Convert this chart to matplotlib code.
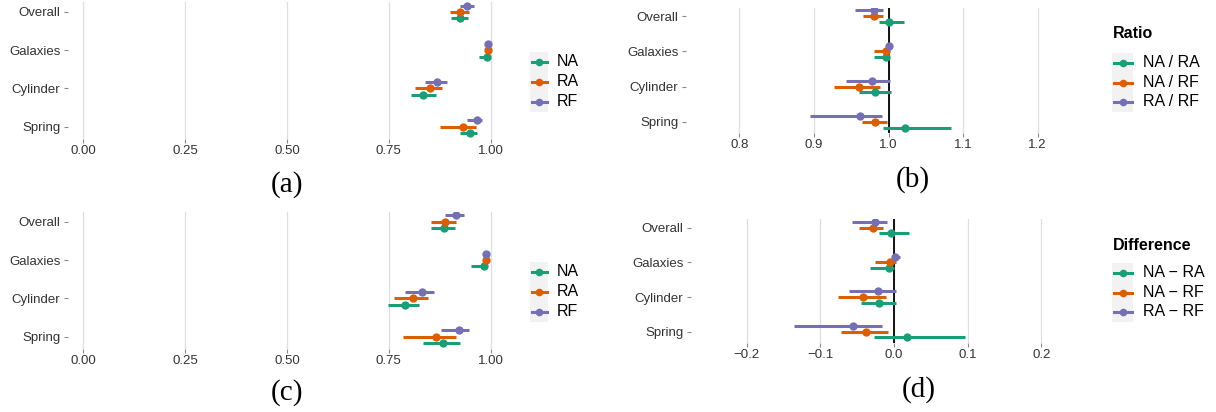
import matplotlib
matplotlib.use("Agg")
import matplotlib.pyplot as plt
from matplotlib.lines import Line2D
from matplotlib.patches import Rectangle

# ---------------- data ----------------
categories = ["Overall", "Galaxies", "Cylinder", "Spring"]

# panel (a)
a_na_est = [0.924, 0.990, 0.835, 0.949]
a_na_lo = [0.902, 0.971, 0.804, 0.924]
a_na_hi = [0.945, 0.996, 0.865, 0.967]
a_ra_est = [0.926, 0.994, 0.852, 0.933]
a_ra_lo = [0.900, 0.991, 0.814, 0.875]
a_ra_hi = [0.948, 0.997, 0.881, 0.963]
a_rf_est = [0.943, 0.993, 0.869, 0.966]
a_rf_lo = [0.924, 0.990, 0.838, 0.943]
a_rf_hi = [0.959, 0.996, 0.893, 0.978]

# panel (c)
c_na_est = [0.885, 0.983, 0.789, 0.884]
c_na_lo = [0.854, 0.951, 0.7475, 0.8335]
c_na_hi = [0.912, 0.988, 0.825, 0.924]
c_ra_est = [0.8886, 0.989, 0.810, 0.866]
c_ra_lo = [0.854, 0.986, 0.764, 0.786]
c_ra_hi = [0.916, 0.992, 0.846, 0.916]
c_rf_est = [0.9146, 0.988, 0.832, 0.922]
c_rf_lo = [0.889, 0.985, 0.789, 0.879]
c_rf_hi = [0.935, 0.991, 0.862, 0.947]

# panel (b) ratios
b_nara_est = [1.000, 0.996, 0.982, 1.0224]
b_nara_lo = [0.987, 0.980, 0.960, 0.992]
b_nara_hi = [1.021, 1.000, 1.003, 1.084]
b_narf_est = [0.980, 0.9965, 0.9607, 0.982]
b_narf_lo = [0.966, 0.981, 0.9275, 0.964]
b_narf_hi = [0.992, 1.001, 0.989, 0.998]
b_rarf_est = [0.980, 1.001, 0.9785, 0.962]
b_rarf_lo = [0.955, 0.999, 0.943, 0.895]
b_rarf_hi = [0.993, 1.003, 1.002, 0.9915]

# panel (d) differences
d_nara_est = [-0.0045, -0.0063, -0.0203, 0.0171]
d_nara_lo = [-0.0208, -0.0325, -0.0446, -0.0266]
d_nara_hi = [0.0203, 0.0, 0.0023, 0.096]
d_narf_est = [-0.029, -0.0054, -0.0425, -0.0379]
d_narf_lo = [-0.0474, -0.0253, -0.0763, -0.0714]
d_narf_hi = [-0.0149, 0.0027, -0.0113, -0.0077]
d_rarf_est = [-0.0253, 0.0014, -0.0217, -0.0551]
d_rarf_lo = [-0.0569, 0.0, -0.0610, -0.136]
d_rarf_hi = [-0.0095, 0.0081, 0.0032, -0.0158]

acc_ticks = [0.0, 0.25, 0.5, 0.75, 1.0]
acc_ticklabels = ["0.00", "0.25", "0.50", "0.75", "1.00"]
ratio_ticks = [0.8, 0.9, 1.0, 1.1, 1.2]
ratio_ticklabels = ["0.8", "0.9", "1.0", "1.1", "1.2"]
diff_ticks = [-0.2, -0.1, 0.0, 0.1, 0.2]
diff_ticklabels = ["\u22120.2", "\u22120.1", "0.0", "0.1", "0.2"]

acc_labels = ["NA", "RA", "RF"]
ratio_labels = ["NA / RA", "NA / RF", "RA / RF"]
diff_labels = ["NA \u2212 RA", "NA \u2212 RF", "RA \u2212 RF"]

# ---------------- style ----------------
GREEN, ORANGE, PURPLE = "#1B9E77", "#D95F02", "#7570B3"
colors = [GREEN, ORANGE, PURPLE]
offsets = [-1/6, 0.0, 1/6]
SANS = ["Liberation Sans", "DejaVu Sans"]
SERIF = ["Liberation Serif", "DejaVu Serif"]
plt.rcParams["font.family"] = SANS

W, H = 1216, 412
fig = plt.figure(figsize=(W / 100, H / 100), dpi=100)


def axes_px(l, t, r, b):
    return fig.add_axes([l / W, 1 - b / H, (r - l) / W, (b - t) / H])


def fx(x):
    return x / W


def fy(y):
    return 1 - y / H


ypos = [4, 3, 2, 1]
YLIM = (0.68, 4.25)


def panel(ax, series, xlim, xticks, xticklabels, ref=None):
    ax.set_xlim(xlim)
    ax.set_ylim(YLIM)
    for s in ax.spines.values():
        s.set_visible(False)
    ax.set_xticks(xticks)
    ax.set_xticklabels(xticklabels)
    ax.set_yticks(ypos)
    ax.set_yticklabels(categories)
    ax.grid(axis="x", color="#DEDEDE", lw=0.9)
    ax.grid(axis="y", visible=False)
    ax.set_axisbelow(True)
    ax.tick_params(axis="both", length=3, width=0.8, color="#8A8A8A",
                   labelsize=9.5, labelcolor="#333333")
    ax.tick_params(axis="y", pad=2.5)
    ax.tick_params(axis="x", pad=1.5)
    if ref is not None:
        ax.axvline(ref, color="black", lw=1.3, zorder=1.5)
    for (est, lo, hi), col, off in zip(series, colors, offsets):
        yy = [p + off for p in ypos]
        ax.hlines(yy, lo, hi, color=col, lw=2.2, zorder=3)
        ax.plot(est, yy, "o", color=col, ms=6, mec="none", zorder=4)


def legend(x_left, box_w, label_dx, y_title, rows_y, labels, title=None):
    if title is not None:
        fig.text(fx(x_left + 1), fy(y_title), title, fontsize=11.5,
                 fontweight="bold", ha="left", va="center", color="black")
    top = rows_y[0] - 10
    bot = rows_y[-1] + 10
    fig.add_artist(Rectangle((fx(x_left), fy(bot)), fx(box_w), (bot - top) / H,
                             transform=fig.transFigure, facecolor="#F2F2F2",
                             edgecolor="none"))
    for yy, lab, col in zip(rows_y, labels, colors):
        fig.add_artist(Line2D([fx(x_left + 1.5), fx(x_left + box_w - 1.5)], [fy(yy), fy(yy)],
                              transform=fig.transFigure, color=col, lw=2.2))
        fig.add_artist(Line2D([fx(x_left + box_w / 2)], [fy(yy)], marker="o", ms=5.5,
                              mec="none", transform=fig.transFigure, color=col))
        fig.text(fx(x_left + label_dx), fy(yy), lab, fontsize=11.5, ha="left",
                 va="center", color="black")


# panel (a)
ax_a = axes_px(68, 2.4, 511, 138.9)
panel(ax_a, [(a_na_est, a_na_lo, a_na_hi), (a_ra_est, a_ra_lo, a_ra_hi),
             (a_rf_est, a_rf_lo, a_rf_hi)], (-0.0375, 1.05), acc_ticks, acc_ticklabels)

# panel (c)
ax_c = axes_px(68, 212.1, 511, 349)
panel(ax_c, [(c_na_est, c_na_lo, c_na_hi), (c_ra_est, c_ra_lo, c_ra_hi),
             (c_rf_est, c_rf_lo, c_rf_hi)], (-0.0375, 1.05), acc_ticks, acc_ticklabels)

# panel (b)
ax_b = axes_px(686, 7.5, 1091, 133)
panel(ax_b, [(b_nara_est, b_nara_lo, b_nara_hi), (b_narf_est, b_narf_lo, b_narf_hi),
             (b_rarf_est, b_rarf_lo, b_rarf_hi)], (0.7285, 1.2715),
      ratio_ticks, ratio_ticklabels, ref=1.0)

# panel (d)
ax_d = axes_px(691, 219, 1097, 342.8)
panel(ax_d, [(d_nara_est, d_nara_lo, d_nara_hi), (d_narf_est, d_narf_lo, d_narf_hi),
             (d_rarf_est, d_rarf_lo, d_rarf_hi)], (-0.2753, 0.2753),
      diff_ticks, diff_ticklabels, ref=0.0)

# legends
legend(530, 18, 27, None, [62, 82, 102], acc_labels)
legend(530, 18, 27, None, [272, 292, 312], acc_labels)
legend(1112, 21, 31, 34, [62.5, 82.5, 102], ratio_labels, title="Ratio")
legend(1112, 21, 31, 246, [272.5, 292.5, 312], diff_labels, title="Difference")

# captions
for x, y, t in [(287.5, 185, "(a)"), (913, 180, "(b)"), (287.5, 393, "(c)"), (919, 390, "(d)")]:
    fig.text(fx(x), fy(y), t, family=SERIF, fontsize=21, ha="center", va="center")

fig.savefig("out.png", dpi=100, facecolor="white")
